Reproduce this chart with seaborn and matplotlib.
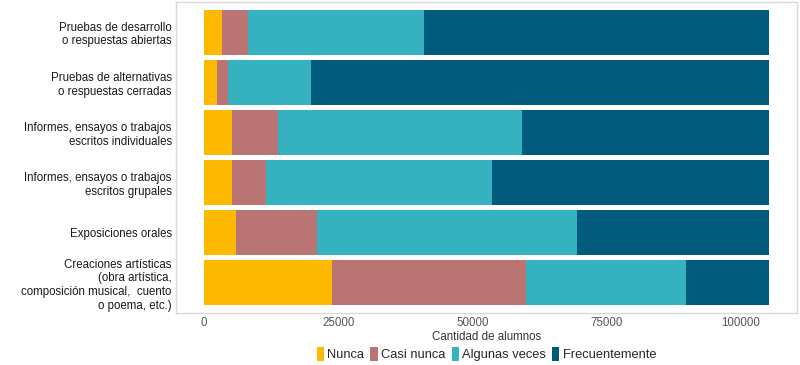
import matplotlib
matplotlib.use("Agg")
import matplotlib.pyplot as plt
import matplotlib.patches as mpatches
import seaborn as sns
import pandas as pd
import numpy as np

# categories (top to bottom)
categorias = [
    "Pruebas de desarrollo\no respuestas abiertas",
    "Pruebas de alternativas\no respuestas cerradas",
    "Informes, ensayos o trabajos\nescritos individuales",
    "Informes, ensayos o trabajos\nescritos grupales",
    "Exposiciones orales",
    "Creaciones artísticas\n(obra artística,\ncomposición musical,  cuento\no poema, etc.)",
]
respuestas = ["Nunca", "Casi nunca", "Algunas veces", "Frecuentemente"]

# number of students per answer
nunca = [3400, 2400, 5200, 5200, 5950, 23900]
casi_nunca = [4800, 2100, 8600, 6400, 15050, 36100]
algunas_veces = [32800, 15400, 45400, 42100, 48500, 29800]
frecuentemente = [64200, 85300, 46000, 51500, 35700, 15400]

colores = ["#FDB900", "#B97473", "#36B1C0", "#025B7D"]
x_ticks = [0, 25000, 50000, 75000, 100000]

sns.set_theme(style="white")
plt.rcParams["font.family"] = ["Liberation Sans", "DejaVu Sans"]

df = pd.DataFrame({
    "categoria": categorias,
    "Nunca": nunca,
    "Casi nunca": casi_nunca,
    "Algunas veces": algunas_veces,
    "Frecuentemente": frecuentemente,
})
cum = df[respuestas].cumsum(axis=1)
total = cum["Frecuentemente"].max()

fig = plt.figure(figsize=(8, 3.65), dpi=100)
ax = fig.add_axes([0.22, 0.1425, 0.776, 0.852])

# stacked bars: draw cumulative totals from the largest down
for resp, color in reversed(list(zip(respuestas, colores))):
    sns.barplot(x=cum[resp], y=df["categoria"], order=categorias, orient="h",
                color=color, width=0.9, edgecolor="none", saturation=1, ax=ax)

ax.set_xlim(-0.05 * total, 1.05 * total)
ax.set_ylim(5.6, -0.6)
ax.set_xticks(x_ticks)
ax.set_xticklabels([str(t) for t in x_ticks], fontsize=8.3, color="#555555")
ax.tick_params(axis="x", length=0, pad=3)
ax.tick_params(axis="y", length=0, pad=3, labelsize=8.3, labelcolor="#1a1a1a")
ax.set_ylabel("")
ax.set_xlabel("Cantidad de alumnos", fontsize=8.3, color="#333333", labelpad=1)
for s in ax.spines.values():
    s.set_color("#D9D9D9")
    s.set_linewidth(1)

handles = [mpatches.Patch(facecolor=c, edgecolor="none", label=r)
           for r, c in zip(respuestas, colores)]
fig.legend(handles=handles, loc="center", bbox_to_anchor=(0.608, 0.031),
           ncol=4, frameon=False, fontsize=9.3, handlelength=0.55, handleheight=1.3,
           handletextpad=0.25, columnspacing=0.5, borderaxespad=0)

fig.savefig("out.png", dpi=100)
